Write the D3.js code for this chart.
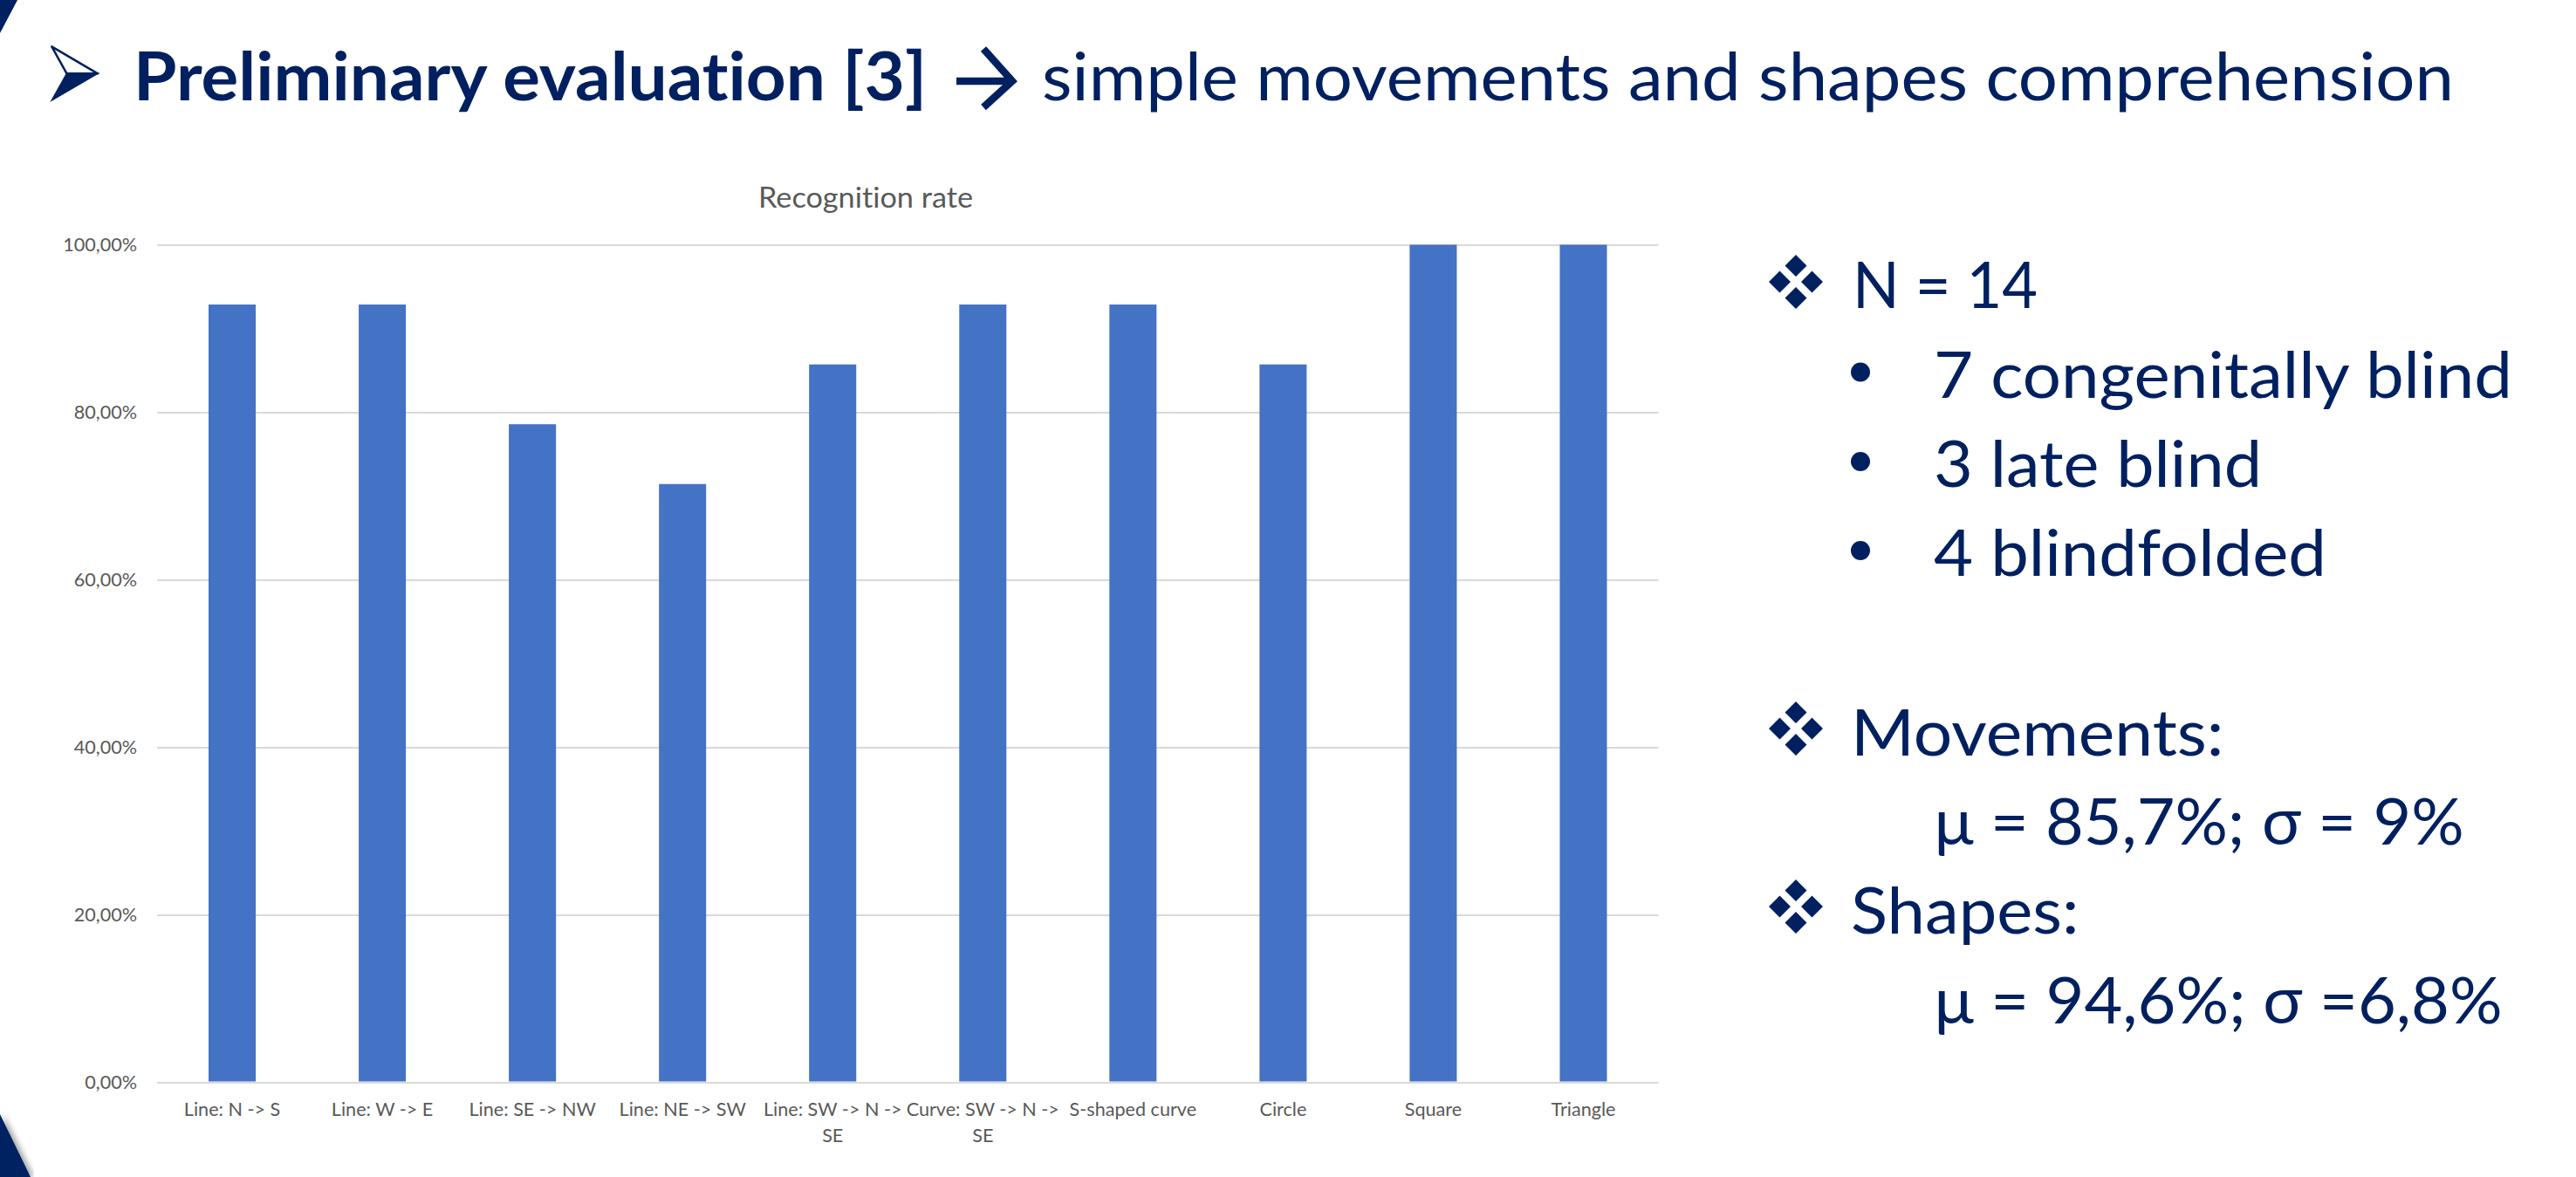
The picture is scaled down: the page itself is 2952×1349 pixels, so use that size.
<!DOCTYPE html>
<html>
<head>
<meta charset="utf-8">
<script src="https://cdn.jsdelivr.net/npm/d3@7"></script>
<style>
  html, body { margin: 0; padding: 0; background: #fff; }
  svg { display: block; font-family: 'Lato', 'Open Sans', sans-serif; }
  svg text { font-variant-ligatures: none; font-feature-settings: "liga" 0, "dlig" 0; }
</style>
</head>
<body>
<div id="slide"></div>
<script>
// chart data
const categories = ['Line: N -> S', 'Line: W -> E', 'Line: SE -> NW', 'Line: NE -> SW',
  'Line: SW -> N -> SE', 'Curve: SW -> N -> SE', 'S-shaped curve', 'Circle', 'Square', 'Triangle'];
const rates = [0.9286, 0.9286, 0.7857, 0.7143, 0.8571, 0.9286, 0.9286, 0.8571, 1.0, 1.0];
const yTicks = [0, 0.2, 0.4, 0.6, 0.8, 1.0];
const chartTitle = 'Recognition rate';

// slide texts
const titleBold = 'Preliminary evaluation [3]';
const titleRest = 'simple movements and shapes comprehension';
const sampleHead = 'N = 14';
const sampleGroups = ['7 congenitally blind', '3 late blind', '4 blindfolded'];
const statHeads = ['Movements:', 'Shapes:'];
const statLines = ['\u03bc = 85,7%; \u03c3 = 9%', '\u03bc = 94,6%; \u03c3 =6,8%'];

const W = 2952, H = 1349;
const navy = '#002060';
const grey = '#595959';
const margin = { left: 180, right: 1051.5, top: 280.5, bottom: 108.5 };
const width = W - margin.left - margin.right;
const height = H - margin.top - margin.bottom;

const svg = d3.select('#slide')
  .append('svg')
  .attr('width', W)
  .attr('height', H)
  .attr('viewBox', '0 0 ' + W + ' ' + H);

svg.append('rect').attr('width', W).attr('height', H).attr('fill', '#fff');

// corner decorations
const defs = svg.append('defs');
defs.append('filter').attr('id', 'shadow')
  .append('feDropShadow')
  .attr('dx', 4).attr('dy', 0).attr('stdDeviation', 3)
  .attr('flood-color', '#000').attr('flood-opacity', 0.35);
svg.append('path')
  .attr('d', 'M0,0 L20,0 L0,38 Z')
  .attr('fill', navy);
svg.append('path')
  .attr('d', 'M0,1277 L35,1349 L0,1349 Z')
  .attr('fill', navy)
  .attr('filter', 'url(#shadow)');

// slide title
const title = svg.append('g').attr('fill', navy);
title.append('path')
  .attr('d', 'M59.3,53.3 L112,84.3 L76.5,84.3 Z')
  .attr('fill', 'none')
  .attr('stroke', navy)
  .attr('stroke-width', 2.5)
  .attr('stroke-linejoin', 'round');
title.append('path')
  .attr('d', 'M76.5,84.3 L112,84.3 L59.3,115 Z')
  .attr('fill', navy)
  .attr('stroke', navy)
  .attr('stroke-width', 1.5);
title.append('text')
  .attr('x', 153).attr('y', 115)
  .attr('textLength', 909).attr('lengthAdjust', 'spacingAndGlyphs')
  .style('font-size', '76px').style('font-weight', 700)
  .text(titleBold);
title.append('path')
  .attr('d', 'M1096,93 L1154,93')
  .attr('stroke', navy).attr('stroke-width', 8.5);
title.append('path')
  .attr('d', 'M1127,56 L1160,93 L1127,123')
  .attr('fill', 'none')
  .attr('stroke', navy).attr('stroke-width', 8.5);
title.append('text')
  .attr('x', 1194).attr('y', 115)
  .attr('textLength', 1618).attr('lengthAdjust', 'spacingAndGlyphs')
  .style('font-size', '76px')
  .text(titleRest);

// chart
const g = svg.append('g')
  .attr('transform', 'translate(' + margin.left + ',' + margin.top + ')');

const x = d3.scaleBand()
  .domain(categories)
  .range([0, width])
  .paddingInner(0.686)
  .paddingOuter(0.343);
const y = d3.scaleLinear().domain([0, 1]).range([height, 0]);

const locale = d3.formatLocale({ decimal: ',', thousands: '.', grouping: [3], currency: ['', ''] });
const pct = locale.format('.2%');

g.append('g')
  .attr('class', 'axis--y')
  .call(d3.axisLeft(y).tickValues(yTicks).tickFormat(pct).tickSize(-width).tickPadding(23))
  .call(a => a.select('.domain').remove())
  .call(a => a.selectAll('.tick line').attr('stroke', '#d9d9d9').attr('stroke-width', 2.2))
  .call(a => a.selectAll('.tick text')
    .attr('fill', grey)
    .style('font-size', '21.6px')
    .style('font-family', 'Lato, sans-serif'));

g.selectAll('.bar')
  .data(rates)
  .enter()
  .append('rect')
  .attr('class', 'bar')
  .attr('x', (d, i) => x(categories[i]))
  .attr('width', x.bandwidth())
  .attr('y', d => y(d))
  .attr('height', d => y(0) - y(d) - 1)
  .attr('fill', '#4472c4');

// category labels, wrapped to the band step
const xAxis = g.append('g')
  .attr('class', 'axis--x')
  .attr('transform', 'translate(0,' + height + ')')
  .call(d3.axisBottom(x).tickSize(0).tickPadding(23))
  .call(a => a.select('.domain').remove());

xAxis.selectAll('.tick text')
  .attr('fill', grey)
  .style('font-size', '21.6px')
  .style('font-family', 'Lato, sans-serif')
  .each(function (d) {
    const t = d3.select(this);
    const words = d.split(' ');
    t.text(null);
    let line = [];
    let tspan = t.append('tspan').attr('x', 0).attr('dy', '0.71em');
    words.forEach(w => {
      line.push(w);
      tspan.text(line.join(' '));
      if (tspan.node().getComputedTextLength() > x.step() + 8 && line.length > 1) {
        line.pop();
        tspan.text(line.join(' '));
        line = [w];
        tspan = t.append('tspan').attr('x', 0).attr('dy', 30).text(w);
      }
    });
  });

svg.append('text')
  .attr('x', 992).attr('y', 238)
  .attr('text-anchor', 'middle')
  .attr('fill', grey)
  .attr('textLength', 246).attr('lengthAdjust', 'spacingAndGlyphs')
  .style('font-size', '32px')
  .text(chartTitle);

// right panel
const panel = svg.append('g').attr('fill', navy).style('font-size', '74px');

const diamonds = (cx, cy) => {
  const h = 12.5, o = 18.5;
  const one = (dx, dy) => 'M' + (cx + dx) + ',' + (cy + dy - h) +
    ' L' + (cx + dx + h) + ',' + (cy + dy) +
    ' L' + (cx + dx) + ',' + (cy + dy + h) +
    ' L' + (cx + dx - h) + ',' + (cy + dy) + ' Z';
  panel.append('path')
    .attr('d', one(0, -o) + one(-o, 0) + one(o, 0) + one(0, o))
    .attr('fill', navy);
};

const putText = (str, px, py, len) => {
  panel.append('text')
    .attr('x', px).attr('y', py)
    .attr('textLength', len).attr('lengthAdjust', 'spacingAndGlyphs')
    .text(str);
};

diamonds(2058, 323);
putText(sampleHead, 2123, 353, 212);

const groupRows = [455.5, 558, 660];
const groupLens = [663, 376, 450];
sampleGroups.forEach((s, i) => {
  panel.append('circle').attr('cx', 2132).attr('cy', groupRows[i] - 29).attr('r', 11);
  putText(s, 2216, groupRows[i], groupLens[i]);
});

const headRows = [866, 1070];
const headLens = [427.5, 261.5];
const statRows = [968, 1173];
const statLens = [607, 651];
statHeads.forEach((s, i) => {
  diamonds(2058, headRows[i] - 31);
  putText(s, 2121, headRows[i], headLens[i]);
  putText(statLines[i], 2216.6, statRows[i], statLens[i]);
});
</script>
</body>
</html>
